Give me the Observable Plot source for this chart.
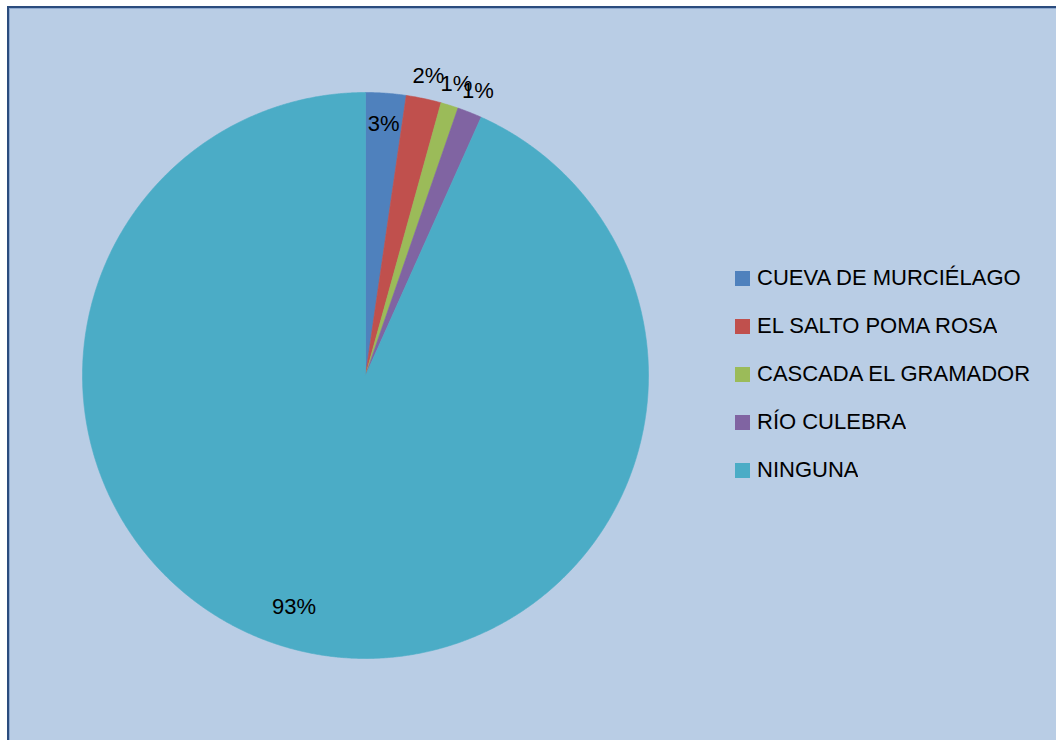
<!DOCTYPE html>
<html><head><meta charset="utf-8">
<script src="https://cdn.jsdelivr.net/npm/d3@7"></script>
<script src="https://cdn.jsdelivr.net/npm/@observablehq/plot@0.6"></script>
<style>
html,body{margin:0;padding:0;background:#fff;width:1056px;height:740px;overflow:hidden}
#frame{position:absolute;left:7px;top:6px;width:1070px;height:760px;background:#B9CDE5;border-left:2px solid #2B4C7E;border-top:2px solid #2B4C7E;box-shadow:inset 1px 1px 0 #8FAAD0}
#chart{position:absolute;left:0;top:0}
#legend{position:absolute;left:735px;top:254px}
.lg-swatch{height:48px;padding-bottom:0 !important}
.lg-swatch > svg{margin-right:7px !important}
.lg-swatches{font-family:"Liberation Sans",Arial,sans-serif !important;font-size:22px !important;color:#000;margin:0 !important}
</style>
</head><body>
<div id="frame"></div>
<div id="chart"></div>
<div id="legend"></div>
<script>
const names = ["CUEVA DE MURCIÉLAGO","EL SALTO POMA ROSA","CASCADA EL GRAMADOR","RÍO CULEBRA","NINGUNA"];
const values = [2.3, 2.0, 1.0, 1.4, 93.3];
const labels = ["3%","2%","1%","1%","93%"];
const colors = ["#4F81BD","#C0504D","#9BBB59","#8064A2","#4BACC6"];
const placement = ["insideEnd","outside","outside","outside","bestFit"];

const radiusFactor = {insideEnd:0.89, outside:1.08, bestFit:0.835};
const arcs = d3.pie().sort(null).value(d => d)(values);
const polys = [];
const labelData = [];
arcs.forEach((a, i) => {
  polys.push({name: names[i], x: 0, y: 0});
  const n = Math.max(2, Math.ceil((a.endAngle - a.startAngle) / 0.004));
  for (let k = 0; k <= n; k++) {
    const t = a.startAngle + (a.endAngle - a.startAngle) * k / n;
    polys.push({name: names[i], x: Math.sin(t), y: Math.cos(t)});
  }
  polys.push({name: names[i], x: 0, y: 0});
  const m = (a.startAngle + a.endAngle) / 2;
  const r = radiusFactor[placement[i]];
  labelData.push({label: labels[i], placement: placement[i], x: Math.sin(m) * r, y: Math.cos(m) * r});
});

const plot = Plot.plot({
  width: 1056, height: 740,
  marginLeft: 82, marginRight: 408, marginTop: 92, marginBottom: 82,
  x: {domain: [-1, 1], axis: null},
  y: {domain: [-1, 1], axis: null},
  color: {domain: names, range: colors},
  style: {background: "transparent", fontFamily: "Liberation Sans, Arial, sans-serif", overflow: "visible"},
  marks: [
    Plot.line(polys, {x: "x", y: "y", z: "name", fill: "name", stroke: "name", strokeWidth: 0.6, curve: "linear"}),
    Plot.text(labelData.filter(d => d.placement !== "bestFit"), {x: "x", y: "y", text: "label", fontSize: 22, fill: "#000"}),
    Plot.text(labelData.filter(d => d.placement === "bestFit"), {x: "x", y: "y", text: "label", fontSize: 22, fill: "#000", dx: -22})
  ]
});
document.getElementById("chart").appendChild(plot);

const legend = Plot.legend({
  color: {type: "ordinal", domain: names, range: colors},
  legend: "swatches",
  columns: 1,
  swatchSize: 15,
  width: 320,
  className: "lg"
});
document.getElementById("legend").appendChild(legend);
</script>
</body></html>
